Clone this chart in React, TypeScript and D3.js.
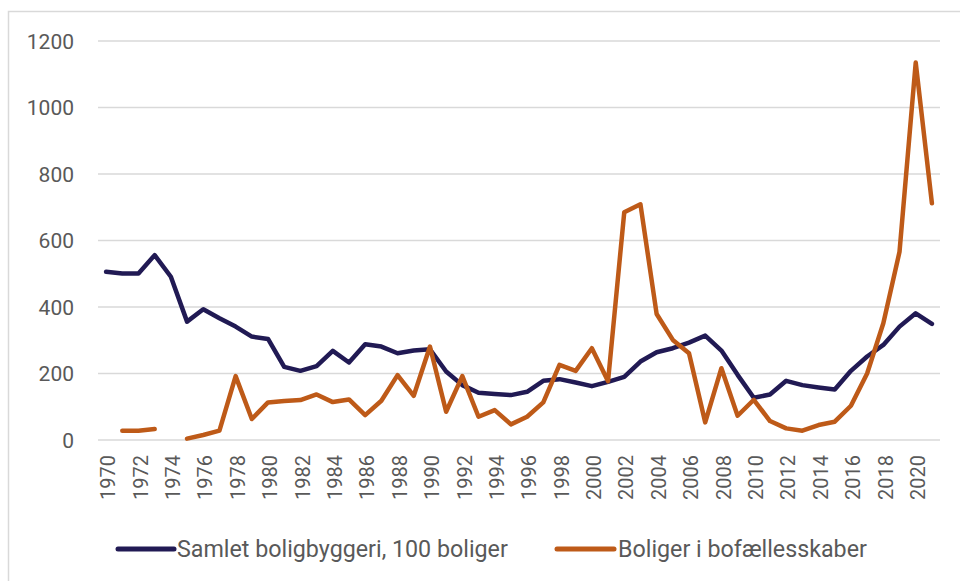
import React from "react";
import * as d3 from "d3";

const years: number[] = d3.range(1970, 2022);
const samlet: (number | null)[] = [
  506, 501, 501, 556, 491, 356, 393, 366, 341, 311,
  304, 220, 208, 222, 268, 233, 288, 281, 261, 269,
  273, 206, 165, 142, 138, 135, 145, 178, 183, 173,
  162, 175, 190, 236, 264, 276, 293, 314, 269, 196,
  127, 137, 178, 165, 158, 152, 208, 251, 286, 341,
  381, 349,
];
const bofaelles: (number | null)[] = [
  null, 28, 28, 33, null, 4, 15, 28, 192, 63,
  113, 117, 120, 137, 114, 122, 75, 118, 195, 133,
  281, 85, 192, 70, 90, 47, 70, 113, 226, 208,
  276, 177, 685, 709, 379, 301, 261, 53, 216, 73,
  121, 57, 35, 28, 45, 55, 103, 200, 351, 566,
  1135, 712,
];
const yTicks: number[] = [0, 200, 400, 600, 800, 1000, 1200];
const seriesNames: string[] = ["Samlet boligbyggeri, 100 boliger", "Boliger i bofællesskaber"];
const colors: string[] = ["#211A54", "#BE5A18"];

function measure(text: string, font: string): number {
  try {
    const c = document.createElement("canvas");
    const ctx = c.getContext("2d");
    if (!ctx) return text.length * 10;
    ctx.font = font;
    return ctx.measureText(text).width;
  } catch {
    return text.length * 10;
  }
}

export default function App() {
  const W = 960, H = 581;
  const left = 98, right = 940, top = 41, bottom = 440;
  const x = d3.scalePoint<number>().domain(years).range([left, right]).padding(0.5);
  const y = d3.scaleLinear().domain([0, 1200]).range([bottom, top]);
  const line = d3
    .line<number | null>()
    .defined((d) => d !== null)
    .x((_, i) => x(years[i]) as number)
    .y((d) => y(d as number));
  const series = [samlet, bofaelles];
  const textColor = "#595959";
  const legendItems = [
    { x1: 118, x2: 174, tx: 177, tl: 328 },
    { x1: 557, x2: 614, tx: 618, tl: 252 },
  ];
  const ratio =
    (legendItems[0].tl + legendItems[1].tl) /
    (measure(seriesNames[0], "20px Roboto") + measure(seriesNames[1], "20px Roboto"));
  const legendFont = Math.max(16, Math.min(24, 20 * (isFinite(ratio) && ratio > 0 ? ratio : 1.05)));
  return (
    <svg width={W} height={H} style={{ position: "absolute", left: 0, top: 0 }} fontFamily="Roboto">
      <rect x={0} y={0} width={W} height={H} fill="#fff" />
      <rect x={8.5} y={11.5} width={1200} height={1200} fill="none" stroke="#d9d9d9" strokeWidth={1.5} />
      {yTicks.map((t) => (
        <g key={t}>
          <line x1={left} x2={right} y1={y(t)} y2={y(t)} stroke="#d9d9d9" strokeWidth={1.5} />
          <text x={74} y={y(t)} dy="0.36em" textAnchor="end" fontSize={21} fill={textColor}>
            {t}
          </text>
        </g>
      ))}
      {years.filter((yr) => (yr - 1970) % 2 === 0).map((yr) => (
        <text
          key={yr}
          transform={`translate(${(x(yr) as number) + 2},455) rotate(-90)`}
          dy="0.36em"
          textAnchor="end"
          fontSize={20}
          fill={textColor}
        >
          {yr}
        </text>
      ))}
      {series.map((s, i) => (
        <path
          key={i}
          d={line(s) || ""}
          fill="none"
          stroke={colors[i]}
          strokeWidth={4.5}
          strokeLinejoin="round"
          strokeLinecap="round"
        />
      ))}
      {legendItems.map((l, i) => (
        <g key={i}>
          <line x1={l.x1} x2={l.x2} y1={549} y2={549} stroke={colors[i]} strokeWidth={5} strokeLinecap="round" />
          <text x={l.tx} y={549} dy="0.36em" fontSize={legendFont} fill={textColor}>
            {seriesNames[i]}
          </text>
        </g>
      ))}
    </svg>
  );
}
